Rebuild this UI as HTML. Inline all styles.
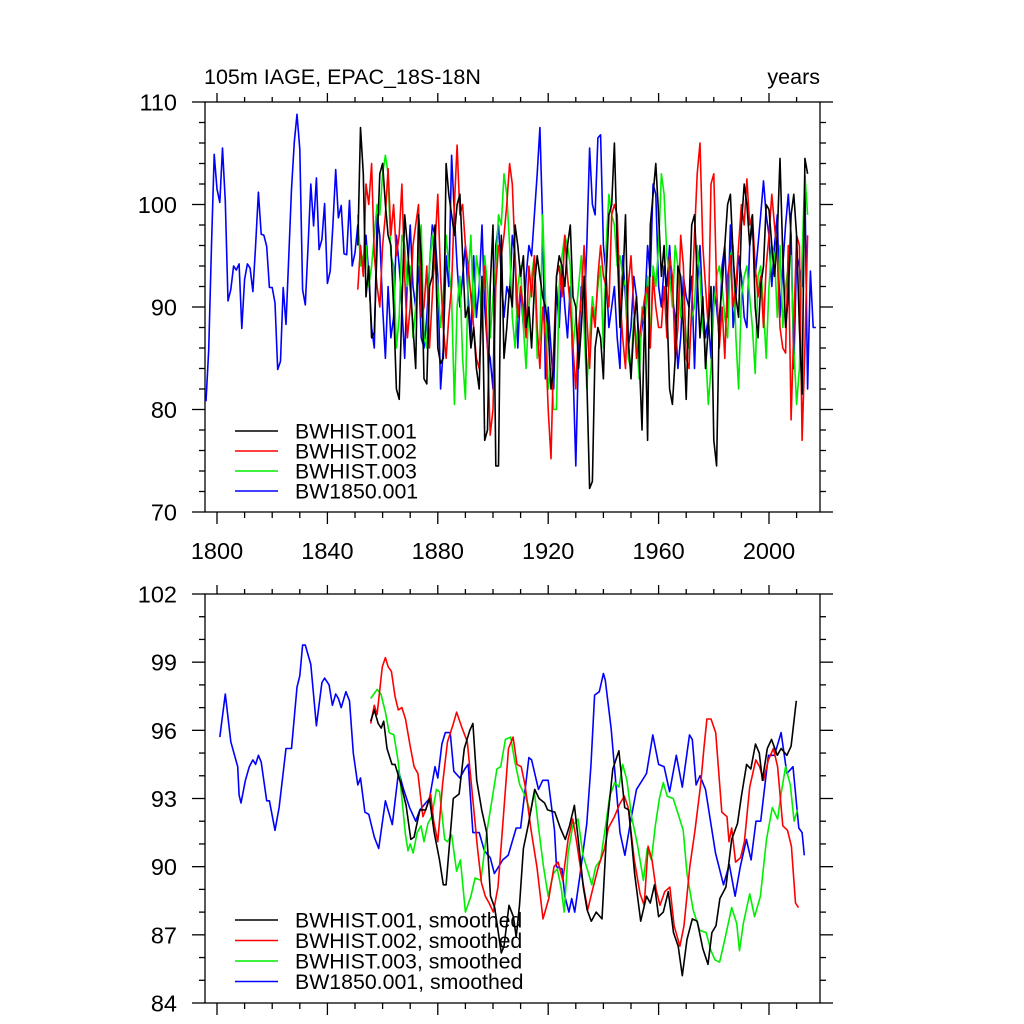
<!DOCTYPE html>
<html><head><meta charset="utf-8"><style>
body{margin:0;background:#fff;}
svg{display:block;font-family:"Liberation Sans",Arial,sans-serif;}
</style></head><body>
<svg id="chart" width="1024" height="1024" viewBox="0 0 1024 1024"></svg>
<script>
// ---- data ----
const blueYears0 = 1796;
const histYears0 = 1851;
const blueAnnual = [80.8,85.8,96,104.9,101.5,100.2,105.5,100.3,90.6,91.7,94.0,93.6,94.2,87.9,92.7,94.2,93.8,91.5,96,101.2,97.1,97.0,95.9,91.9,91.9,90.4,83.9,84.7,91.9,88.3,95,101.5,106.1,108.8,105.4,91.7,90.2,96,102.0,97.9,102.6,95.6,96.6,100.1,92.3,93.5,98,103.4,98.7,99.9,95.2,95.1,100.4,94.0,95.3,
98,95,94,97,93,88,86,99,97,90,
85,92,87,89,97,94,90,85,93,98,
92,90,94,87,86,89,94,98,97,93,
82,86,95,92,104.8,99,94,90,93,96,
91,87,95,89,92,98,90,86,85,82,
96,98,93,89,92,91,97,95,86,92,
88,93,96,95,99,103,107.5,98,83,90,
86,82,92,88,94,90,87,92,84,74.5,
86,92,89,96,105.5,100,99,106.5,106.8,96,
93,88,90,92,87,84,95,91,86,88,
93,91,86,88,90,96,93,102,101,92,
90,94,92,96,91,89,84,87,93,91,
90,93,84,92,96,90,87,89,85,92,
90,87,94,96,89,98,88,91,95,93,
89,88,96,98,93,96,99,102.3,99,97,
92,96,99,89,94,98,101,97,84,95,
94,92,102,82,93.5,88,88];
const blackAnnual = [96,107.5,103,91,94,87,87.5,96,103,104,
100,97,96,90,82,81,90,99,96,92,
88,84,99,95,83,82.5,92,93,98,86,
84.5,85,104,101,99,97,100,101,95,89,
90,86,88,84,82,93,77,78,92,98,
74.5,74.5,97,85,88,92,90,98,96,93,
95,88,90,86,92,95,93,91,90,88,
82,84,93,95,94,92,96,98,91,90,
84,88,93,83,72.3,73,86,88,87,83,
93,99,100,106,96,88,92,99,87,83,
88,91,85,78,90,77,98,101,104,99,
93,96,90,82,80.5,85,94,93,88,81,
90,98,99,93,87,91,84,88,92,77,
74.5,89,92,96,100,101,95,91,89,98,
102,100,96,99,90,87,92,94,100,99.5,
96,93,97,104.5,95,88,91,99,101,97,
88,81.5,104.5,103];
const redAnnual = [91.7,96,93,102,100,104,95,92,90,96,
99,103.5,97,100,95,97,102,93,87,90,
96,98,100,89,90,94,86,91,96,101,
93,88,85,89,92,100,105.8,99,100,96,
94,91,88,85,84,90,94,86,77.5,80,
92,96,95,97,100,104,102,95,89,92,
90,87,94,91,95,88,84,90,87,80,
75.2,86,93,94,91,97,93,90,86,82,
88,91,96,89,84,90,88,93,96,93,
92,90,99,100,99,91,87,84,92,95,
90,85,87,89,91,92,86,93,90,88,
88,92,87,95,93,85,88,97,94,85,
84,90,97,103,106,96,92,88,102,103,
92,86,90,85,93,95,90,92,96,100,
98,102.5,98,99,94,91,93,88,94,97,
101,98,95,88,86,85.5,96,79,88,97,
96,77,86,97];
const greenAnnual = [99,94,95,96,92,94,97,100,99,103,
104.8,103,95,94,86,89,97,96,92,94,
87,90,95,98,87,86,94,97,94,92,
88,91,97,94,91,80.5,90,93,85,81,
93,97,89,95,93,88,95,92,87,91,
94,99,98,103,101,96,89,86,92,94,
88,84,90,93,95,85,87,99,91,82,
84,80,80,92,95,97,96,94,86,89,
92,95,88,82,87,91,89,92,94,86,
96,101,99,98,94,95,93,92,85,84,
89,87,83,90,88,93,87,94,92,96,
103,101,95,93,90,96,94,89,91,87,
86,89,90,96,93,88,86,80.5,84,90,
93,94,92,89,87,95,96,87,82,91,
93,94,91,88,83.5,93,94,90,85,92,
96,95,89,96,88,92,94,95,86,80.5,
84,95,103,99];

const blueSmYears = [1801,1803,1805,1807.5,1808,1808.7,1810.3,1811.7,1813,1814,1815,1816,1818,1819,1821,1822.5,1825,1827,1829,1830,1831,1832,1834,1836,1838,1839,1840.6,1841.8,1843,1844,1845,1846.7,1848,1849.4,1851,1852,1853.6,1855,1857,1858.6,1861,1863.5,1865.8,1867.6,1869.8,1872,1873.5,1875.6,1877,1879,1880,1881.5,1882.7,1884.5,1885.8,1888,1889.8,1891,1892.7,1895,1896.9,1899,1900.5,1903.5,1905.5,1908.4,1910,1913,1914,1916.5,1918,1920,1922.3,1923,1925,1926,1927.5,1928.5,1929.6,1931.5,1934,1935.5,1936.8,1938.5,1940,1940.7,1942.8,1944.2,1946,1947.8,1950,1952,1955.6,1957.9,1960,1962,1964,1966.4,1968.6,1971.2,1972.2,1973.6,1975,1977,1980.6,1983.5,1985.6,1987.7,1989.6,1991.8,1993.5,1995.3,1997,1999.8,2002,2004.4,2006.5,2008.7,2010.8,2012,2012.8];
const blueSmVals = [95.7,97.6,95.5,94.4,93.15,92.8,93.8,94.4,94.7,94.5,94.9,94.6,92.9,92.9,91.6,92.6,95.2,95.2,97.9,98.4,99.75,99.75,98.9,96.2,98.1,98.3,98.0,97.1,97.6,97.4,97.0,97.7,97.3,95.0,93.6,93.9,92.4,92.3,91.3,90.8,92.9,91.85,94.2,93.4,92.6,92.0,92.5,92.8,93.0,94.4,93.9,95.4,95.9,95.9,94.2,93.9,94.3,94.5,91.5,91.5,90.7,90.4,89.7,90.3,90.5,91.7,91.7,94.8,94.7,93.4,93.8,93.8,91.6,90.0,89.9,88.7,88.0,88.6,88.0,89.6,91.9,94.5,97.55,97.7,98.5,98.2,96.1,94.1,91.5,90.5,92.1,93.4,94.1,95.8,94.5,94.4,93.3,94.9,93.5,95.8,95.6,93.6,94.0,93.4,90.6,89.2,90.1,88.7,90.0,91.2,90.3,92.0,92.0,94.9,94.9,95.9,94.1,94.4,91.7,91.5,90.5];
const blackSmYears = [1855.7,1857,1858.4,1859.5,1860.4,1861.6,1863.4,1864.5,1866.5,1868.5,1870.2,1871.4,1873.5,1875.6,1877,1878.7,1880.6,1882,1883,1885.6,1887.7,1889.6,1891.6,1892.7,1894.1,1895.9,1897.7,1899.1,1900.6,1903,1904,1905.8,1907.4,1908.4,1909.6,1911,1912.7,1915.1,1916.7,1918.7,1919.8,1922.4,1924.4,1926.2,1927.7,1929.5,1931,1932.7,1934.1,1935.6,1937.4,1939.5,1941.3,1943.4,1945.6,1947.7,1949.2,1951.3,1953.5,1955.6,1957,1958.5,1960,1961.7,1963.5,1965.4,1967.1,1968.6,1970.3,1972.2,1974,1976,1977.9,1979.3,1980.8,1982.2,1984.4,1986.5,1988.6,1990,1991.9,1993.4,1995.1,1996.5,1997.6,1999.4,2000.9,2003,2004.4,2006.5,2008,2009.9];
const blackSmVals = [96.4,96.9,96.3,96.1,96.4,95.2,94.5,94.5,93.7,92.7,91.2,91.3,92.5,92.5,93.0,91.5,90.3,89.2,89.2,93.0,93.2,95.2,96.0,96.3,93.8,92.5,91.5,88.7,88.2,86.2,86.5,88.3,87.8,86.9,88.3,90.8,91.8,93.4,93.0,92.8,92.5,92.4,91.7,91.2,91.8,92.7,91.05,89.1,88.1,87.6,88.0,87.7,91.8,94.3,95.1,92.6,92.5,89.7,87.6,88.7,88.4,89.2,87.8,88.0,88.9,87.1,86.5,85.2,86.8,87.7,87.6,86.4,85.7,87.1,87.4,88.6,89.1,91.2,91.9,93.1,94.5,94.3,95.4,95.0,93.8,95.2,95.6,94.9,95.2,94.9,95.3,97.3];
const redSmYears = [1855.7,1857,1858,1859.9,1861,1862,1863.2,1864.5,1865.7,1867,1868.3,1870,1871.4,1872.8,1874.6,1875.6,1877.4,1878.5,1880,1881.7,1883.5,1885.4,1886.8,1888.8,1890.7,1892.9,1894.3,1895.8,1897.2,1898.6,1900.1,1901.8,1903.7,1905.6,1907.3,1908.7,1910.2,1911.6,1913.8,1915.9,1918.1,1920.2,1922.1,1923.6,1925.3,1927.2,1928.9,1930.3,1932,1934.3,1936.1,1938.2,1940.4,1941.8,1944,1946.1,1947.6,1949,1951.2,1953.3,1954.8,1956.2,1957.6,1959.1,1960.5,1962.2,1964.1,1965.6,1967.7,1969.2,1971.3,1973.2,1975.2,1976.4,1977.5,1979,1980.7,1982.9,1984.8,1985.5,1986.5,1987.9,1989.7,1991.1,1993,1995.2,1996.6,1998,1999.8,2001.6,2003.1,2005,2006.7,2008.1,2009.6,2010.7];
const redSmVals = [96.3,97.1,96.7,98.8,99.2,98.8,98.6,97.5,96.9,97.0,96.5,95.3,94.4,94.1,92.2,92.5,93.2,92.0,91.1,93.6,95.5,96.2,96.8,96.1,95.5,92.7,90.9,89.3,88.7,88.4,88.0,89.1,92.1,95.2,95.7,94.5,94.4,93.6,91.6,90.0,87.7,88.6,90.0,90.2,89.4,91.2,92.1,91.1,89.7,88.1,89.0,90.0,90.8,91.7,92.2,92.8,93.1,92.6,90.3,88.8,88.3,90.9,90.3,89.0,88.3,88.9,89.1,87.4,86.5,87.4,90.0,91.6,93.6,95.2,96.5,96.5,95.9,92.4,92.2,91.1,91.7,90.2,90.4,91.1,93.5,94.7,94.4,93.8,94.7,95.2,94.4,91.8,91.6,90.9,88.4,88.2];
const greenSmYears = [1855.7,1858,1859.4,1861,1862.4,1864.1,1865.7,1867,1868.3,1869.2,1870,1871.1,1872.5,1873.9,1875,1876.4,1877.8,1879.5,1880.6,1882.5,1883.5,1885,1886.8,1888.2,1890,1892,1893.5,1895.6,1897.7,1899.7,1901.4,1902.8,1904.5,1906.4,1907.8,1909.7,1911.7,1913.6,1915,1916.4,1918.3,1920,1921.9,1923.3,1924.8,1925.8,1927.2,1928.9,1930.8,1932.6,1934.4,1935.8,1937.2,1939,1940.8,1942.3,1944.1,1945.6,1947,1948.5,1950.2,1952.3,1954.5,1955.9,1957.4,1958.8,1960.3,1961.7,1963.1,1965.3,1967.4,1968.9,1970.3,1972.5,1974.9,1977.2,1979,1980.4,1982.1,1984,1986.5,1988.3,1989.3,1990.7,1993,1994.8,1996.9,1999.1,2001.2,2003.1,2004.5,2006,2007.7,2009.1,2010.3];
const greenSmVals = [97.4,97.8,97.6,96.8,95.9,95.8,94.6,93.0,91.4,90.7,91.0,90.6,91.5,91.8,91.1,91.9,92.2,93.4,93.3,91.2,91.1,91.4,89.8,90.3,88.0,88.7,89.5,89.4,91.5,93.0,94.3,94.4,95.6,95.7,94.7,93.6,93.1,92.4,93.3,91.8,90.0,88.7,89.7,89.9,89.0,88.0,90.6,91.8,92.1,90.5,89.8,89.2,90.0,90.3,91.8,93.1,93.7,93.5,94.5,93.8,92.2,91.0,89.4,90.8,90.3,91.8,93.0,93.7,93.1,93.0,92.2,91.6,89.7,88.1,87.2,87.1,86.3,85.9,85.8,86.8,88.2,87.5,86.3,87.5,88.8,87.8,88.7,91.2,92.6,92.1,93.3,94.4,93.6,92.0,92.5];

const topYTicks = [70,80,90,100,110];
const botYTicks = [84,87,90,93,96,99,102];
const xTicks = [1800,1840,1880,1920,1960,2000];

// ---- layout ----
const svg = document.getElementById('chart');
const NS = 'http://www.w3.org/2000/svg';
const X0 = 205, X1 = 820;
const yearMin = 1800 - 12/2.76, yearMax = 1800 + 603/2.76;
function xs(yr){ return X0 + (yr - yearMin) / (yearMax - yearMin) * (X1 - X0); }
const topP = {t:102, b:512, min:70, max:110};
const botP = {t:594, b:1003, min:84, max:102};
function ys(p, v){ return p.b - (v - p.min) / (p.max - p.min) * (p.b - p.t); }

function mk(tag, attrs, parent){
  const e = document.createElementNS(NS, tag);
  for (const k in attrs) e.setAttribute(k, attrs[k]);
  (parent || svg).appendChild(e);
  return e;
}
function line(x1,y1,x2,y2,parent){ return mk('line',{x1,y1,x2,y2,stroke:'#000','stroke-width':1.3},parent); }

function drawPanel(p, name, yTicks, yMinorStep, showXLabels){
  const g = mk('g', {});
  
  
  const fr = mk('rect',{x:X0,y:p.t,width:X1-X0,height:p.b-p.t,fill:'none',stroke:'#000','stroke-width':1.3},g);
  
  
  for (let v = p.min; v <= p.max + 1e-6; v += yMinorStep){
    const y = ys(p, v);
    const major = yTicks.some(t => Math.abs(t - v) < 1e-6);
    const L = major ? 13 : 6;
    line(X0 - L, y, X0, y, g);
    line(X1, y, X1 + L, y, g);
  }
  const ylab = mk('g', {}, g);
  
  
  yTicks.forEach(t => {
    const tx = mk('text',{x:177,y:ys(p,t)+8.5,'text-anchor':'end','font-size':23.5,fill:'#000'},ylab);
    tx.textContent = t;
  });
  for (let yr = 1800; yr <= 2010; yr += 10){
    const x = xs(yr);
    const major = xTicks.indexOf(yr) >= 0;
    const L = major ? 12 : 6;
    line(x, p.b, x, p.b + L, g);
    line(x, p.t - (major ? 9 : 5), x, p.t, g);
  }
  if (showXLabels){
    const xlab = mk('g', {}, g);
    
    
    xTicks.forEach(t => {
      const tx = mk('text',{x:xs(t),y:559,'text-anchor':'middle','font-size':23.5,fill:'#000'},xlab);
      tx.textContent = t;
    });
  }
  return g;
}

function series(p, years, vals, color, name, parent){
  let d = '';
  vals.forEach((v,i) => { d += (i ? 'L' : 'M') + xs(years[i]).toFixed(1) + ',' + ys(p, v).toFixed(1); });
  const path = mk('path',{d,fill:'none',stroke:color,'stroke-width':1.6,'stroke-linejoin':'round'},parent);
  
  
}
function annualYears(start, n){ const a=[]; for(let i=0;i<n;i++) a.push(start+i); return a; }

const topG = drawPanel(topP, 'top-panel', topYTicks, 2, true);
const botG = drawPanel(botP, 'bottom-panel', botYTicks, 1, false);

series(topP, annualYears(blueYears0, blueAnnual.length), blueAnnual, '#0000ff', 'bw1850-001-line', topG);
series(topP, annualYears(histYears0, greenAnnual.length), greenAnnual, '#00ee00', 'bwhist-003-line', topG);
series(topP, annualYears(histYears0, redAnnual.length), redAnnual, '#ff0000', 'bwhist-002-line', topG);
series(topP, annualYears(histYears0, blackAnnual.length), blackAnnual, '#000000', 'bwhist-001-line', topG);

series(botP, blueSmYears, blueSmVals, '#0000ff', 'bw1850-001-smoothed-line', botG);
series(botP, greenSmYears, greenSmVals, '#00ee00', 'bwhist-003-smoothed-line', botG);
series(botP, redSmYears, redSmVals, '#ff0000', 'bwhist-002-smoothed-line', botG);
series(botP, blackSmYears, blackSmVals, '#000000', 'bwhist-001-smoothed-line', botG);

function legend(rows, y0, dy, name){
  const g = mk('g', {});
  
  
  rows.forEach((r,i) => {
    const y = y0 + i*dy;
    const ln = mk('line',{x1:235,y1:y,x2:278,y2:y,stroke:r[1],'stroke-width':1.6},g);
    
    
    const t = mk('text',{x:295,y:y+7.5,'font-size':21.3,fill:'#000'},g);
    
    
    t.textContent = r[0];
  });
}
legend([['BWHIST.001','#000'],['BWHIST.002','#ff0000'],['BWHIST.003','#00ee00'],['BW1850.001','#0000ff']], 431, 20, 'top-legend');
legend([['BWHIST.001, smoothed','#000'],['BWHIST.002, smoothed','#ff0000'],['BWHIST.003, smoothed','#00ee00'],['BW1850.001, smoothed','#0000ff']], 920, 20.5, 'bottom-legend');

const tl = mk('text',{x:204,y:84,'font-size':21.5,fill:'#000'});


tl.textContent = '105m IAGE, EPAC_18S-18N';
const tr = mk('text',{x:820,y:84,'font-size':21.5,'text-anchor':'end',fill:'#000'});


tr.textContent = 'years';
</script>
</body></html>
